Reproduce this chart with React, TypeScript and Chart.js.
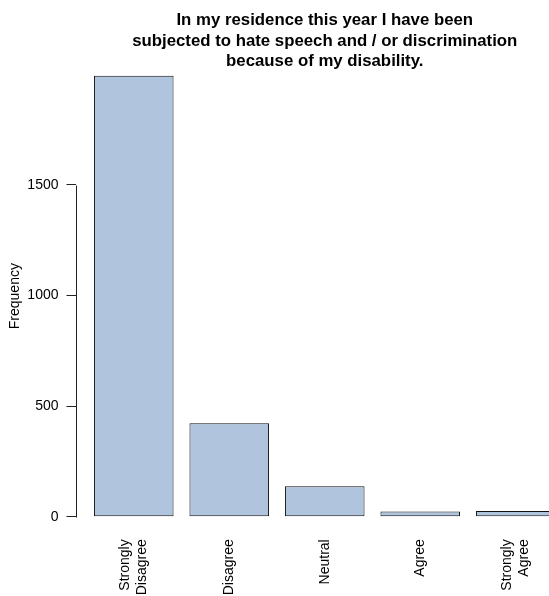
import React, { useEffect, useRef } from "react";
import { Chart, registerables } from "chart.js";

Chart.register(...registerables);

// ---- data ----
const categories: string[][] = [
  ["Strongly", "Disagree"],
  ["Disagree"],
  ["Neutral"],
  ["Agree"],
  ["Strongly", "Agree"],
];
const frequencies: number[] = [1994, 422, 137, 23, 26];
const yTicks: number[] = [0, 500, 1000, 1500];
const titleLines: string[] = [
  "In my residence this year I have been",
  "subjected to hate speech and / or discrimination",
  "because of my disability.",
];
const yLabel = "Frequency";

// ---- R barplot geometry (width 1, space 0.2, 4% axis extension) ----
const SPACE = 0.2;
const n = frequencies.length;
const centers = frequencies.map((_, i) => SPACE + i * (1 + SPACE) + 0.5);
const xLo = SPACE;
const xHi = n * (1 + SPACE);
const xMin = xLo - 0.04 * (xHi - xLo);
const xMax = xHi + 0.04 * (xHi - xLo);
const yTop = Math.max(...frequencies);
const yMin = -0.04 * yTop;
const yMax = yTop * 1.04;

const FONT = "'Liberation Sans', Arial, Helvetica, sans-serif";
const AXIS_SIZE = 14;
const LINE_H = 16.8;

const xLabelPlugin = {
  id: "xLabels",
  afterDraw(chart: any) {
    const { ctx, chartArea } = chart;
    const x = chart.scales.x;
    ctx.save();
    ctx.font = `${AXIS_SIZE}px ${FONT}`;
    ctx.fillStyle = "#000";
    ctx.textAlign = "right";
    ctx.textBaseline = "middle";
    categories.forEach((lines, i) => {
      const px = x.getPixelForValue(centers[i]);
      lines.forEach((line, j) => {
        const off = (j - (lines.length - 1) / 2) * LINE_H;
        ctx.save();
        ctx.translate(px + off, chartArea.bottom + 5);
        ctx.rotate(-Math.PI / 2);
        ctx.fillText(line, 0, 0);
        ctx.restore();
      });
    });
    ctx.restore();
  },
};

const yAxisLinePlugin = {
  id: "yAxisLine",
  afterDraw(chart: any) {
    const { ctx, chartArea } = chart;
    const y = chart.scales.y;
    const x0 = Math.round(chartArea.left) + 0.5;
    ctx.save();
    ctx.strokeStyle = "#222";
    ctx.lineWidth = 1;
    ctx.beginPath();
    ctx.moveTo(x0, Math.round(y.getPixelForValue(yTicks[0])) + 0.5);
    ctx.lineTo(x0, Math.round(y.getPixelForValue(yTicks[yTicks.length - 1])) + 0.5);
    ctx.stroke();
    ctx.restore();
  },
};

export default function App() {
  const ref = useRef<HTMLCanvasElement | null>(null);

  useEffect(() => {
    if (!ref.current) return;
    const chart = new Chart(ref.current, {
      type: "bar",
      data: {
        datasets: [
          {
            data: frequencies.map((v, i) => ({ x: centers[i], y: v })),
            backgroundColor: "#B0C4DE",
            borderColor: "#111",
            borderWidth: 1,
            borderSkipped: false,
            barPercentage: 1,
            categoryPercentage: 1 / (1 + SPACE),
          } as any,
        ],
      },
      options: {
        animation: false,
        responsive: false,
        devicePixelRatio: 1,
        layout: { padding: 0 },
        plugins: {
          legend: { display: false },
          tooltip: { enabled: false },
          title: {
            display: true,
            text: titleLines,
            fullSize: false,
            color: "#000",
            font: { family: FONT, size: 16.8, weight: "bold", lineHeight: 20.5 / 16.8 },
            padding: { top: 10.45, bottom: -13.95 },
          },
        },
        scales: {
          x: {
            type: "linear",
            offset: false,
            min: xMin,
            max: xMax,
            grid: { display: false, drawTicks: false, offset: false },
            border: { display: false },
            ticks: { display: false },
            afterBuildTicks: (s: any) => {
              s.ticks = centers.map((v) => ({ value: v }));
            },
            afterFit: (s: any) => {
              s.height = 61.7;
            },
          },
          y: {
            type: "linear",
            min: yMin,
            max: yMax,
            afterBuildTicks: (s: any) => {
              s.ticks = yTicks.map((v) => ({ value: v }));
            },
            afterFit: (s: any) => {
              s.width = 75.5;
            },
            grid: {
              display: true,
              drawOnChartArea: false,
              drawTicks: true,
              tickLength: 9,
              color: "#222",
            },
            border: { display: false },
            ticks: {
              color: "#000",
              padding: 8,
              font: { family: FONT, size: AXIS_SIZE },
              callback: (v: any) => String(v),
            },
            title: {
              display: true,
              text: yLabel,
              color: "#000",
              font: { family: FONT, size: AXIS_SIZE },
              padding: { top: 7, bottom: 0 },
            },
          },
        },
      } as any,
      plugins: [xLabelPlugin, yAxisLinePlugin],
    });
    return () => chart.destroy();
  }, []);

  return (
    <div
      style={{
        position: "fixed",
        left: 0,
        top: 0,
        width: 549,
        height: 596,
        overflow: "hidden",
        background: "#fff",
      }}
    >
      <canvas ref={ref} width={574} height={596} style={{ display: "block" }} />
    </div>
  );
}
